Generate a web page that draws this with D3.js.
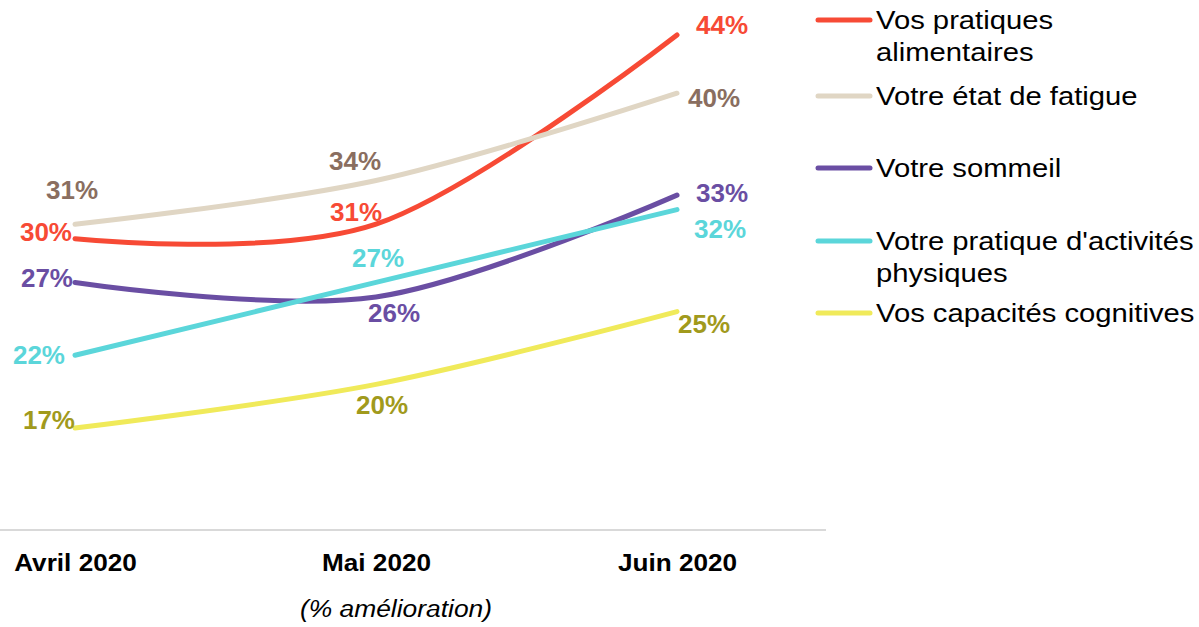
<!DOCTYPE html>
<html>
<head>
<meta charset="utf-8">
<script src="https://cdn.jsdelivr.net/npm/d3@7"></script>
<style>
  body { margin: 0; background: #fff; }
  svg text { font-family: Arial, "Liberation Sans", sans-serif; }
</style>
</head>
<body>
<div class="chart"></div>
<script>
var months = ["Avril 2020", "Mai 2020", "Juin 2020"];

var seriesNames = [
	["Vos pratiques", "alimentaires"],
	["Votre état de fatigue"],
	["Votre sommeil"],
	["Votre pratique d'activités", "physiques"],
	["Vos capacités cognitives"]
];

var alimentaires = [30, 31, 44];
var fatigue = [31, 34, 40];
var sommeil = [27, 26, 33];
var activites = [22, 27, 32];
var cognitives = [17, 20, 25];

var allValues = [alimentaires, fatigue, sommeil, activites, cognitives];

// styling per series
var lineColors = ["#f74a35", "#e0d6c4", "#6a4ea3", "#5bd6da", "#f0ea5a"];
var labelColors = ["#f74a35", "#8a6e60", "#6a4ea3", "#5bd6da", "#a19a1c"];
// label nudges [dx, dy, anchor] relative to each point
var nudges = [
	[[-3, -7, "end"], [-20, -12, "middle"], [19, -10, "start"]],
	[[-3, -34, "middle"], [-21, -20, "middle"], [11, 5, "start"]],
	[[-2, -5, "end"], [18, 16, "middle"], [19, -2, "start"]],
	[[-10, 0, "end"], [2, -25, "middle"], [17, 19, "start"]],
	[[0, -8, "end"], [6, 21, "middle"], [1, 12, "start"]]
];
var legendY = [20, 96, 168, 241, 313];

var width = 1199, height = 627;
var svg = d3.select(".chart").append("svg")
	.attr("width", width)
	.attr("height", height);

var x = d3.scalePoint().domain(months).range([75, 677]);
var y = d3.scaleLinear().domain([17, 44]).range([428, 35]);

// baseline
svg.append("line")
	.attr("x1", 0).attr("x2", 826)
	.attr("y1", 530).attr("y2", 530)
	.style("stroke", "#d9d9d9")
	.style("stroke-width", 2);

var xAxis = d3.axisBottom(x).tickSize(0).tickPadding(0);
var ax = svg.append("g")
	.attr("transform", "translate(0,571)")
	.call(xAxis);
ax.select(".domain").remove();
ax.selectAll(".tick text")
	.attr("y", 0)
	.attr("dy", 0)
	.attr("transform", "scale(1.09,1)")
	.style("font-weight", "bold")
	.style("font-size", "24px")
	.style("fill", "#000");

svg.append("text")
	.attr("transform", "translate(396,617) scale(1.1,1)")
	.attr("text-anchor", "middle")
	.style("font-style", "italic")
	.style("font-size", "24px")
	.text("(% amélioration)");

var line = d3.line()
	.x(function(d, i){ return x(months[i]); })
	.y(function(d){ return y(d); })
	.curve(d3.curveCatmullRom.alpha(0));

allValues.forEach(function(vals, s){
	svg.append("path")
		.datum(vals)
		.attr("d", line)
		.style("fill", "none")
		.style("stroke", lineColors[s])
		.style("stroke-width", 5)
		.style("stroke-linecap", "round");
});

allValues.forEach(function(vals, s){
	vals.forEach(function(v, i){
		var o = nudges[s][i];
		svg.append("text")
			.attr("x", x(months[i]) + o[0])
			.attr("y", y(v) + o[1])
			.attr("dy", "0.35em")
			.attr("text-anchor", o[2])
			.style("font-weight", "bold")
			.style("font-size", "26px")
			.style("fill", labelColors[s])
			.text(v + "%");
	});
});

// legend
var leg = svg.append("g");
seriesNames.forEach(function(lines, s){
	var ly = legendY[s];
	leg.append("line")
		.attr("x1", 818).attr("x2", 870)
		.attr("y1", ly).attr("y2", ly)
		.style("stroke", lineColors[s])
		.style("stroke-width", 5)
		.style("stroke-linecap", "round");
	lines.forEach(function(t, k){
		leg.append("text")
			.attr("transform", "translate(876," + (ly + k * 32) + ") scale(1.17,1)")
			.attr("dy", "0.35em")
			.style("font-size", "25px")
			.style("fill", "#000")
			.text(t);
	});
});
</script>
</body>
</html>
